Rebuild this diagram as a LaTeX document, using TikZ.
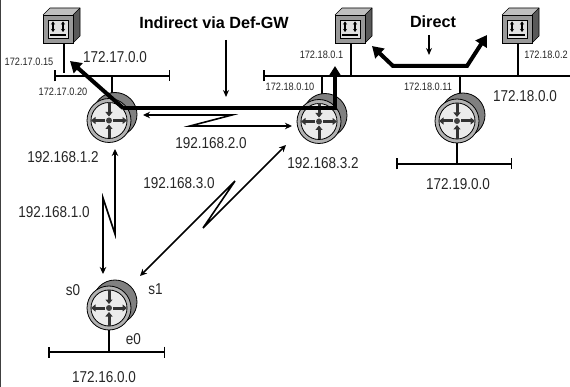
\documentclass[tikz,border=0pt]{standalone}
\usepackage{fontspec}
\setmainfont{Liberation Sans}
\newfontfamily\narrowfont[FakeStretch=0.86]{Liberation Sans}
\usetikzlibrary{arrows.meta}
\tikzset{
  x=1pt,y=-1pt,
  lab/.style={inner sep=0pt,font=\narrowfont\fontsize{15.7}{16}\selectfont,text=black!85},
  tiny lab/.style={inner sep=0pt,font=\narrowfont\fontsize{10.7}{11}\selectfont,text=black!85},
  head/.style={inner sep=0pt,font=\bfseries\fontsize{16.2}{18}\selectfont},
  bus/.style={line width=1.7pt,{Bar[width=11pt,line width=1.5pt]}-{Bar[width=11pt,line width=1.5pt]}},
  busopen/.style={line width=1.7pt,{Bar[width=11pt,line width=1.5pt]}-},
  drop/.style={line width=2pt},
  thin arrow/.style={line width=1.3pt,-{Stealth[length=7pt,width=6pt]}},
  serial/.style={line width=1.6pt,{Stealth[length=7pt,width=6.5pt]}-{Stealth[length=7pt,width=6.5pt]}},
  flow/.style={line width=4pt,line join=miter,-{Triangle[length=11pt,width=13pt]}},
  router node/.style={circle,inner sep=0pt,minimum size=44pt},
  server node/.style={rectangle,inner sep=0pt,minimum width=30pt,minimum height=28pt},
  blk/.style={line width=3pt,black!80,-{Stealth[length=4.5pt,width=7pt,inset=0pt]}},
  dbl/.style={line width=1.2pt,{Stealth[length=3pt,width=4pt]}-{Stealth[length=3pt,width=4pt]}},
  pics/routerpic/.style={code={
    \fill[black!50] (6,-6) circle (22);
    \draw[line width=.8pt] (6,-6) circle (22);
    \fill[black!30] (0,0) circle (22);
    \draw[line width=.8pt] (0,0) circle (22);
    \fill[black!8] (0,0) circle (18);
    \draw[line width=.8pt] (0,0) circle (18);
    \draw[blk] (-4,0) -- (-18,0);
    \draw[blk] (4,0) -- (18,0);
    \draw[blk] (0,-18) -- (0,-4);
    \draw[blk] (0,18) -- (0,4);
    \fill[black!75] (0,0) circle (3);
  }},
  pics/serverpic/.style={code={
    \fill[black!25] (-15,-14) -- (-8,-21) -- (22,-21) -- (15,-14) -- cycle;
    \fill[black!65] (15,-14) -- (22,-21) -- (22,7) -- (15,14) -- cycle;
    \draw[line width=.7pt,line join=round] (-15,-14) -- (-8,-21) -- (22,-21) -- (22,7) -- (15,14);
    \draw[line width=.7pt] (15,-14) -- (22,-21);
    \fill[black!40] (-15,-14) rectangle (15,14);
    \draw[line width=.7pt] (-15,-14) rectangle (15,14);
    \fill[black!12] (-10,-9) rectangle (10,9);
    \draw[line width=.6pt] (-10,-9) rectangle (10,9);
    \draw[dbl] (-5,-7.5) -- (-5,3);
    \draw[dbl] (5,-7.5) -- (5,3);
    \draw[line width=1.7pt] (-8,6) -- (8,6);
  }}
}
\begin{document}
\begin{tikzpicture}
\useasboundingbox (0,0) rectangle (570,387);
\fill[white] (0,0) rectangle (570,387);
\draw[line width=1pt,black!75] (0.5,0) -- (0.5,387);

% anchors
\coordinate (busAl) at (54,76);
\coordinate (busAr) at (170,76);
\coordinate (busBl) at (263,76);
\coordinate (busBr) at (570,76);
\coordinate (busCl) at (396,164);
\coordinate (busCr) at (512,164);
\coordinate (busDl) at (48,352);
\coordinate (busDr) at (165,352);

\node[router node] (r1) at (109,120.5) {};
\node[router node] (r2) at (319,121.5) {};
\node[router node] (r3) at (457,121) {};
\node[router node] (r4) at (109,308) {};
\node[server node] (s1) at (58,29) {};
\node[server node] (s2) at (350,29) {};
\node[server node] (s3) at (517,29) {};

% buses and drops
\draw[bus] (busAl) -- (busAr);
\draw[busopen] (busBl) -- (busBr);
\draw[bus] (busCl) -- (busCr);
\draw[bus] (busDl) -- (busDr);
\coordinate (a1) at (64,73);
\coordinate (a2) at (351,76);
\coordinate (a3) at (518,76);
\draw[drop] (s1.south -| a1) -- (a1);
\draw[drop] (s2.south -| a2) -- (a2);
\draw[drop] (s3.south -| a3) -- (a3);
\coordinate (b1) at (112,76);
\coordinate (b2) at (322,76);
\coordinate (b3) at (460,76);
\draw[drop] (r1.north -| b1) -- (b1);
\draw[drop] (r2.north -| b2) -- (b2);
\draw[drop] (r3.north -| b3) -- (b3);
\draw[drop] (r3.south) -- (r3.south |- busCl);
\draw[drop] (r4.south) -- (r4.south |- busDl);

% routers and servers
\pic at (r1) {routerpic};
\pic at (r2) {routerpic};
\pic at (r3) {routerpic};
\pic at (r4) {routerpic};
\pic at (s1) {serverpic};
\pic at (s2) {serverpic};
\pic at (s3) {serverpic};

% serial links
\coordinate (l2a) at (143,115);
\coordinate (l2b) at (232,115);
\coordinate (l2c) at (190,126);
\coordinate (l2d) at (292,126);
\draw[serial] (l2a) -- (l2b) -- (l2c) -- (l2d);
\coordinate (l1a) at (115,149);
\coordinate (l1b) at (115,234);
\coordinate (l1c) at (103,198);
\coordinate (l1d) at (103,274);
\draw[serial] (l1a) -- (l1b) -- (l1c) -- (l1d);
\coordinate (l3a) at (286,145);
\coordinate (l3b) at (203,228);
\coordinate (l3c) at (235,181);
\coordinate (l3d) at (140,276);
\draw[serial] (l3a) -- (l3b) -- (l3c) -- (l3d);

% bold flows
\coordinate (f0) at (123,108);
\coordinate (f1) at (335,108);
\coordinate (f2) at (335,66);
\coordinate (f3) at (70,61);
\draw[flow] (f0) -- (f1) -- (f2);
\draw[flow] (f0) -- (f3);
\coordinate (d1) at (372,46);
\coordinate (d2) at (393,66);
\coordinate (d3) at (467,66);
\coordinate (d4) at (487,35);
\draw[flow,{Triangle[length=11pt,width=13pt]}-{Triangle[length=11pt,width=13pt]}] (d1) -- (d2) -- (d3) -- (d4);

% pointers
\node[head] (h1) at (214,23) {Indirect via Def-GW};
\node[head] (h2) at (433,22) {Direct};
\coordinate (p1) at (226,97);
\coordinate (p2) at (429,55);
\draw[thin arrow] (226,40) -- (p1);
\draw[thin arrow] (429,35) -- (p2);

% labels
\node[lab] (n1) at (115,57) {172.17.0.0};
\node[lab] (n2) at (211,143) {192.168.2.0};
\node[lab] (n3) at (63,157) {192.168.1.2};
\node[lab] (n4) at (179,183) {192.168.3.0};
\node[lab] (n5) at (54,212) {192.168.1.0};
\node[lab] (n6) at (73,290) {s0};
\node[lab] (n7) at (155.5,289) {s1};
\node[lab] (n8) at (133.5,339) {e0};
\node[lab] (n9) at (104,377) {172.16.0.0};
\node[lab] (n10) at (525,96) {172.18.0.0};
\node[lab] (n11) at (458,184) {172.19.0.0};
\node[lab] (n12) at (323,163) {192.168.3.2};
\node[tiny lab] (t1) at (29,62) {172.17.0.15};
\node[tiny lab] (t2) at (63,92) {172.17.0.20};
\node[tiny lab] (t3) at (321.5,55) {172.18.0.1};
\node[tiny lab] (t4) at (290,87) {172.18.0.10};
\node[tiny lab] (t5) at (428,87) {172.18.0.11};
\node[tiny lab] (t6) at (546,55) {172.18.0.2};
\end{tikzpicture}
\end{document}
